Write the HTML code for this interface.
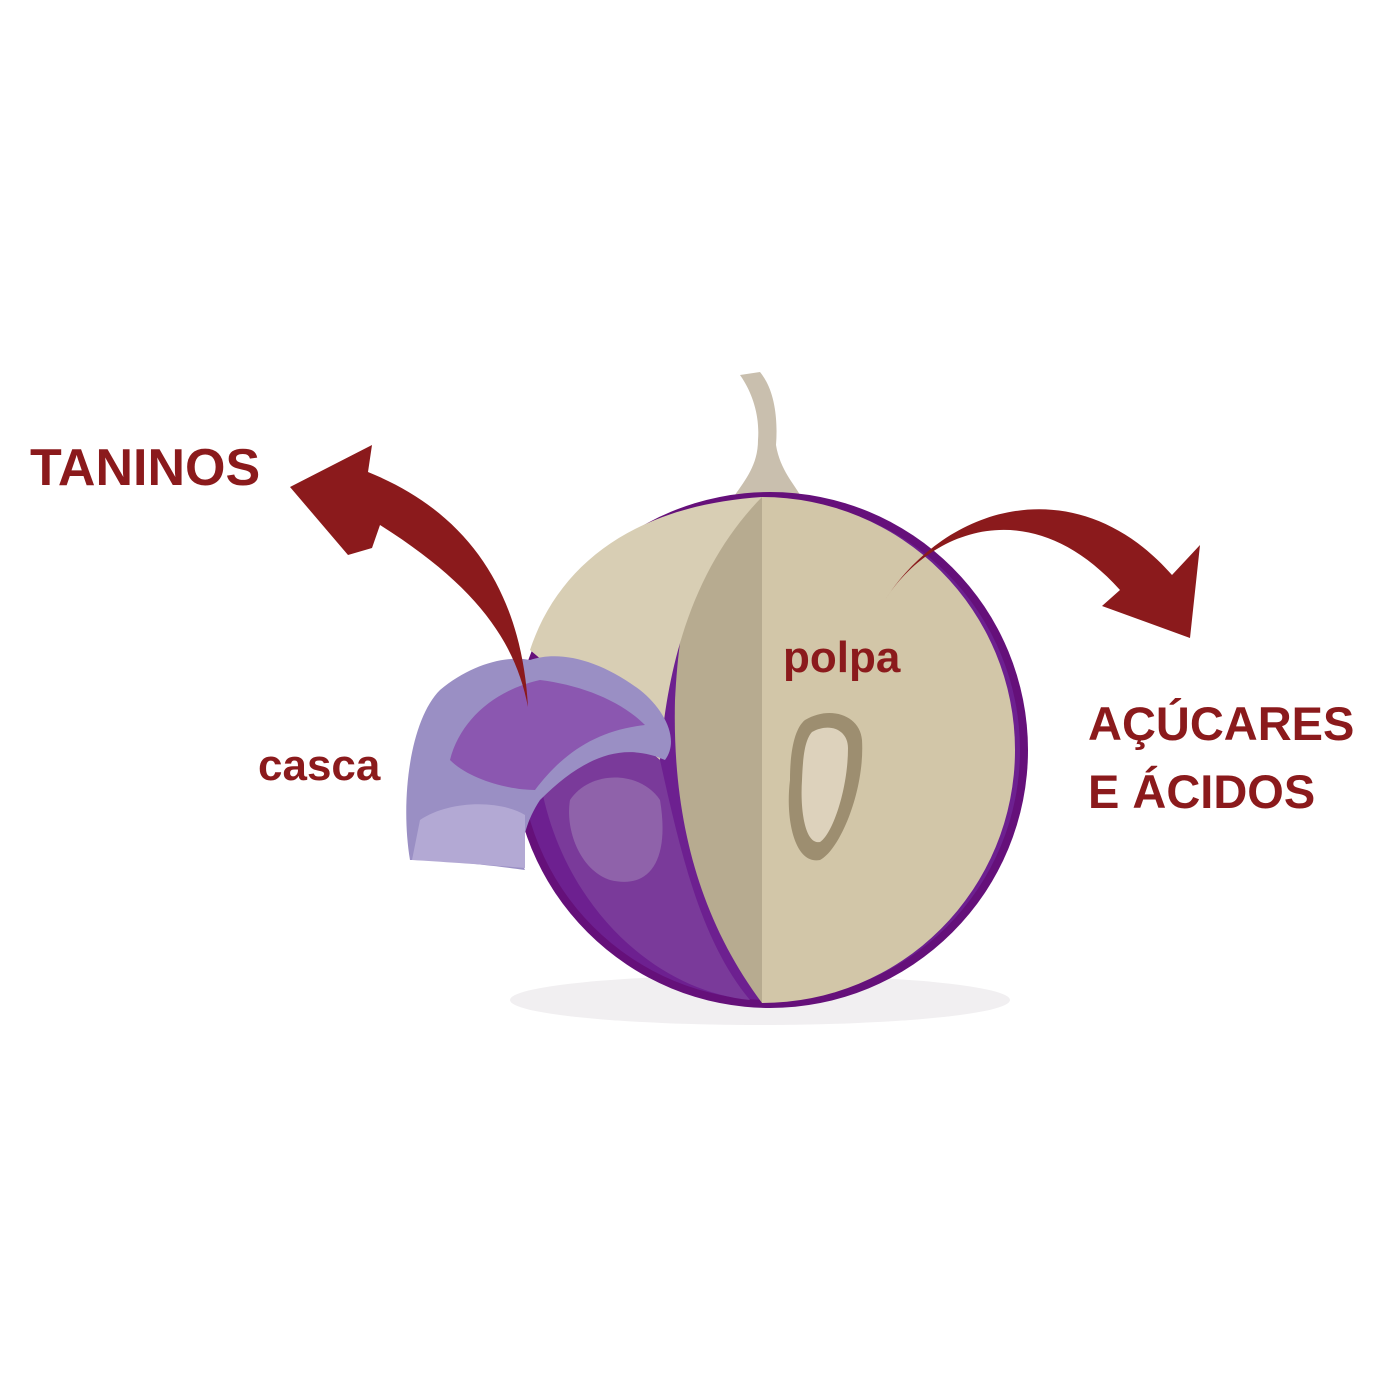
<!DOCTYPE html>
<html><head><meta charset="utf-8"><style>
html,body{margin:0;padding:0;background:#fff;}
svg{display:block}
text{font-family:"Liberation Sans","DejaVu Sans",sans-serif;font-weight:bold;fill:#8b1a1c}
</style></head><body>
<svg width="1400" height="1400" viewBox="0 0 1400 1400" xmlns="http://www.w3.org/2000/svg">
<rect width="1400" height="1400" fill="#fff"/>
<ellipse cx="760" cy="1000" rx="250" ry="25" fill="#f1eff1"/>
<path d="M760 372 C775 390 778 420 776 445 C780 470 795 485 800 495 L735 495 C745 480 758 465 758 440 C760 415 752 392 740 375 Z" fill="#c9bfae"/>
<circle cx="770" cy="750" r="258" fill="#65107a"/>
<circle cx="770" cy="750" r="250" fill="#6d2090"/>
<path d="M762 497 A253 253 0 0 1 762 1003 Z" fill="#d2c6a8"/>
<path d="M762 497 C700 520 680 600 675 700 C672 820 700 920 762 1003 Z" fill="#b7ab90"/>
<path d="M762 497 C640 505 560 560 530 650 L660 760 C668 650 700 560 762 497 Z" fill="#d8ceb4"/>
<path d="M540 780 C560 740 620 730 660 760 C680 850 700 940 750 1000 C650 990 560 900 540 780 Z" fill="#7a3a9a"/>
<path d="M570 800 C590 770 640 770 660 800 C670 860 650 890 610 880 C580 870 565 830 570 800 Z" fill="#8f62aa"/>
<path d="M805 720 C830 705 860 715 862 740 C865 790 840 850 820 860 C795 865 785 820 790 780 C790 750 795 728 805 720 Z" fill="#9d8e70"/>
<path d="M812 732 C830 722 848 730 848 748 C848 790 832 835 820 842 C805 845 800 810 802 780 C803 755 805 740 812 732 Z" fill="#ddd2bc"/>
<path d="M530 660 C560 650 600 660 640 690 C665 710 680 740 665 760 C620 740 580 760 540 800 C520 830 520 860 525 870 C490 865 440 860 410 860 C400 800 410 720 440 690 C470 665 505 655 530 660 Z" fill="#9a8fc4"/>
<path d="M540 680 C580 685 620 700 645 725 C600 730 565 750 535 790 C510 790 470 780 450 760 C460 720 495 690 540 680 Z" fill="#8b57b0"/>
<path d="M420 820 C450 800 500 800 525 815 L525 868 C490 865 445 862 412 860 Z" fill="#b3a9d4"/>
<path d="M528 707 C515 640 475 585 380 525 L372 548 L348 555 L290 487 L372 445 L368 472 C475 515 522 600 528 707 Z" fill="#8b1a1c"/>
<path d="M885 600 C930 530 1030 490 1120 590 L1102 606 L1190 638 L1200 545 L1172 575 C1080 470 950 500 885 600 Z" fill="#8b1a1c"/>
<text x="30" y="485" font-size="52">TANINOS</text>
<text x="258" y="780" font-size="44">casca</text>
<text x="783" y="672" font-size="44">polpa</text>
<text x="1088" y="740" font-size="47">AÇÚCARES</text>
<text x="1088" y="808" font-size="47">E ÁCIDOS</text>
</svg>
</body></html>
